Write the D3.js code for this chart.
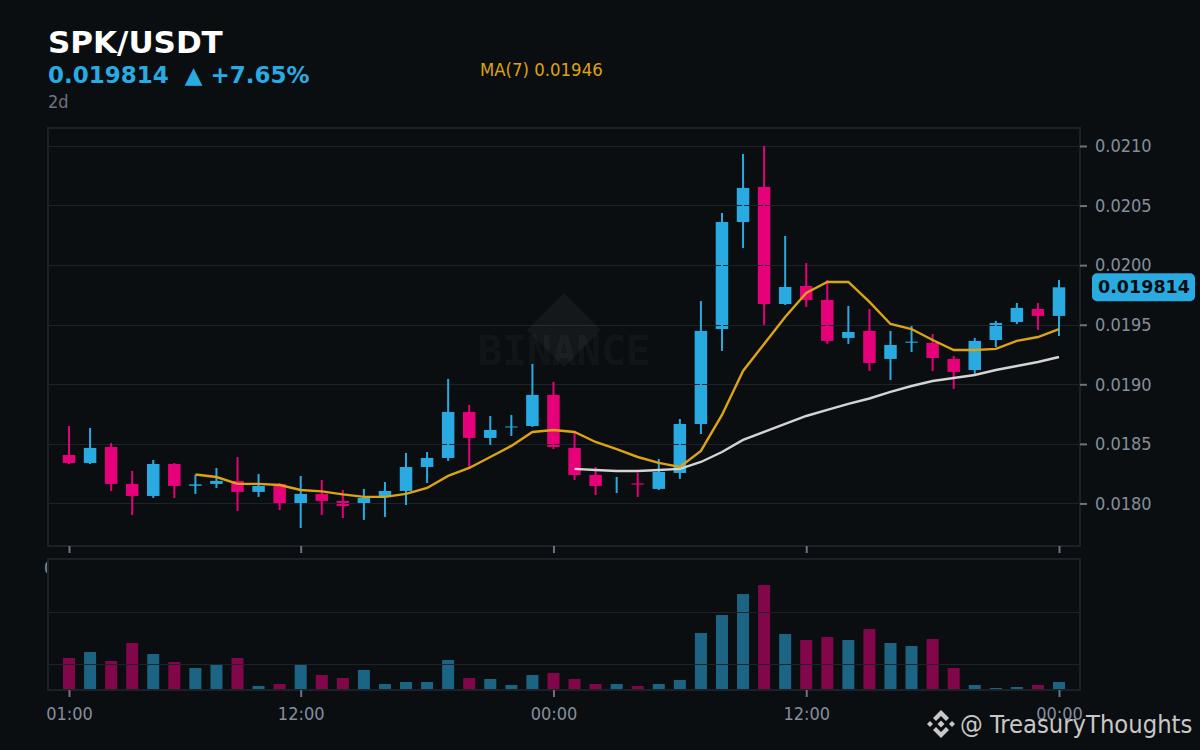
<!doctype HTML>
<html>
<head>
    <style>
        html, body { margin: 0; padding: 0; background: #0b0e11; }
        svg { display: block; }
        text { font-family: "DejaVu Sans", sans-serif; }
        .cond { font-family: "DejaVu Sans Condensed", "DejaVu Sans", sans-serif; font-stretch: condensed; }
        .pre { white-space: pre; }
        .axis path { display: none; }
        .axis line { stroke: #6c7380; stroke-width: 2; }
        .axis text { fill: #848e9c; font-size: 18px; font-family: "DejaVu Sans Condensed", "DejaVu Sans", sans-serif; font-stretch: condensed; }
    </style>
    <script src="https://d3js.org/d3.v7.min.js"></script>
</head>
<body>
<div id="chart"></div>
<script>

    // candle values
    const open = [0.018407,0.018340,0.018474,0.018164,0.018063,0.018331,0.018148,0.018164,0.018189,0.018097,0.018164,0.018004,0.018080,0.018021,0.017996,0.018055,0.018105,0.018306,0.018382,0.018768,0.018550,0.018638,0.018650,0.018911,0.018466,0.018239,0.018147,0.018168,0.018122,0.018256,0.018667,0.019464,0.020362,0.020656,0.019674,0.019825,0.019708,0.019389,0.019448,0.019213,0.019349,0.019347,0.019213,0.019120,0.019372,0.019523,0.019632,0.019574];
    const close = [0.018340,0.018466,0.018164,0.018063,0.018331,0.018147,0.018160,0.018189,0.018097,0.018147,0.018004,0.018080,0.018021,0.017979,0.018046,0.018105,0.018306,0.018382,0.018768,0.018550,0.018617,0.018646,0.018911,0.018474,0.018239,0.018147,0.018147,0.018158,0.018264,0.018667,0.019448,0.020362,0.020648,0.019674,0.019817,0.019708,0.019364,0.019439,0.019179,0.019330,0.019358,0.019221,0.019104,0.019364,0.019515,0.019641,0.019574,0.019814];
    const high = [0.018650,0.018634,0.018508,0.018273,0.018365,0.018340,0.018239,0.018298,0.018390,0.018248,0.018172,0.018231,0.018197,0.018113,0.018122,0.018180,0.018424,0.018432,0.019045,0.018827,0.018734,0.018743,0.019171,0.019020,0.018592,0.018306,0.018222,0.018256,0.018373,0.018709,0.019699,0.020438,0.020933,0.021000,0.020245,0.020018,0.019876,0.019657,0.019632,0.019448,0.019490,0.019422,0.019238,0.019389,0.019532,0.019683,0.019683,0.019876];
    const low = [0.018331,0.018331,0.018105,0.017903,0.018046,0.018046,0.018080,0.018130,0.017937,0.018055,0.017945,0.017794,0.017903,0.017878,0.017862,0.017887,0.017987,0.018172,0.018357,0.018290,0.018491,0.018566,0.018642,0.018457,0.018197,0.018071,0.018088,0.018055,0.018113,0.018206,0.018583,0.019280,0.020144,0.019498,0.019666,0.019649,0.019339,0.019339,0.019112,0.019036,0.019271,0.019112,0.018961,0.019087,0.019313,0.019506,0.019456,0.019406];
    const volume = [6.15,7.31,5.58,9.04,6.92,5.38,4.23,4.81,6.15,0.77,1.15,5.0,2.88,2.31,3.85,1.15,1.54,1.54,5.77,2.31,2.12,0.96,2.88,3.27,2.12,1.15,1.15,0.77,1.15,1.92,10.96,14.42,18.46,20.19,10.77,9.62,10.19,9.62,11.73,9.04,8.46,9.81,4.23,0.96,0.38,0.58,0.96,1.54];

    // moving averages, the leading candles have no value yet
    const ma7 = [null,null,null,null,null,null,0.018243,0.018222,0.018164,0.018164,0.018155,0.018113,0.018101,0.018076,0.018055,0.018055,0.018080,0.018130,0.018231,0.018298,0.018390,0.018483,0.018600,0.018617,0.018600,0.018516,0.018457,0.018390,0.018340,0.018306,0.018441,0.018743,0.019112,0.019339,0.019565,0.019767,0.019859,0.019859,0.019691,0.019506,0.019464,0.019372,0.019288,0.019288,0.019297,0.019364,0.019397,0.019464];
    const ma25 = [null,null,null,null,null,null,null,null,null,null,null,null,null,null,null,null,null,null,null,null,null,null,null,null,0.018290,0.018281,0.018273,0.018273,0.018281,0.018290,0.018348,0.018432,0.018533,0.018600,0.018667,0.018734,0.018785,0.018835,0.018881,0.018936,0.018986,0.019028,0.019053,0.019078,0.019120,0.019154,0.019187,0.019229];

    const xTicks = [0, 11, 23, 35, 47];
    const xTickLabels = ["01:00", "12:00", "00:00", "12:00", "00:00"];
    const priceTicks = [0.018, 0.0185, 0.019, 0.0195, 0.02, 0.0205, 0.021];
    const volumeTicks = [5, 15];

    const upColor = "#29abe2";
    const downColor = "#e6007a";
    const bgColor = "#0b0e11";
    const gridColor = "#1e2329";

    var svg = d3.select("#chart").append("svg")
        .attr("width", 1200)
        .attr("height", 750);

    svg.append("rect")
        .attr("width", 1200)
        .attr("height", 750)
        .attr("fill", bgColor);

    // panels
    var left = 48, right = 1080;
    var priceTop = 128, priceBottom = 546;
    var volTop = 559, volBottom = 690;

    const x = d3.scaleLinear().domain([0, 47]).range([69, 1059]);
    const y = d3.scaleLinear().domain([0.017643, 0.021151]).range([priceBottom, priceTop]);
    const yVol = d3.scaleLinear().domain([0, 25.2]).range([volBottom, volTop]);

    const candles = open.map((d, i) => ({i: i, open: d, close: close[i], high: high[i], low: low[i], vol: volume[i]}));
    const candleColor = d => d.close >= d.open ? upColor : downColor;

    // stray bit of a tick label that pokes out left of the volume panel
    svg.append("text")
        .attr("class", "cond")
        .attr("x", 44)
        .attr("y", 574)
        .attr("font-size", "18px")
        .attr("fill", "#848e9c")
        .text("0");

    svg.append("rect")
        .attr("x", left)
        .attr("y", volTop)
        .attr("width", right - left)
        .attr("height", volBottom - volTop)
        .attr("fill", bgColor);

    // candle bodies sit under the grid, wicks on top of it
    svg.append("g")
        .selectAll("rect")
        .data(candles)
        .join("rect")
        .attr("x", d => x(d.i) - 6.25)
        .attr("y", d => y(Math.max(d.open, d.close)))
        .attr("width", 12.5)
        .attr("height", d => Math.abs(y(d.open) - y(d.close)))
        .attr("fill", candleColor);

    svg.append("g")
        .selectAll("line")
        .data(priceTicks)
        .join("line")
        .attr("x1", left)
        .attr("x2", right)
        .attr("y1", d => Math.floor(y(d) + 0.3) + 0.5)
        .attr("y2", d => Math.floor(y(d) + 0.3) + 0.5)
        .attr("stroke", gridColor);

    // watermark
    var mark = svg.append("g").attr("fill", "#ffffff").attr("fill-opacity", 0.045);
    mark.append("path")
        .attr("d", d3.line()([[564, 293], [601, 330], [564, 367], [527, 330]]) + "Z");
    mark.append("text")
        .attr("x", 564)
        .attr("y", 365)
        .attr("text-anchor", "middle")
        .attr("font-size", "41px")
        .attr("font-weight", "bold")
        .style("font-family", "'DejaVu Sans Mono', monospace")
        .text("BINANCE");

    svg.append("g")
        .selectAll("line")
        .data(candles)
        .join("line")
        .attr("x1", d => x(d.i))
        .attr("x2", d => x(d.i))
        .attr("y1", d => y(d.high))
        .attr("y2", d => y(d.low))
        .attr("stroke", candleColor)
        .attr("stroke-width", 2);

    // moving average lines
    const maLine = d3.line()
        .defined(d => d !== null)
        .x((d, i) => x(i))
        .y(d => y(d));

    svg.append("path")
        .attr("d", maLine(ma25))
        .attr("fill", "none")
        .attr("stroke", "#d4d4d4")
        .attr("stroke-width", 2.4);

    svg.append("path")
        .attr("d", maLine(ma7))
        .attr("fill", "none")
        .attr("stroke", "#dca312")
        .attr("stroke-width", 2.4);

    // volume bars
    svg.append("g")
        .selectAll("rect")
        .data(candles)
        .join("rect")
        .attr("x", d => x(d.i) - 6)
        .attr("y", d => yVol(d.vol))
        .attr("width", 12)
        .attr("height", d => volBottom - yVol(d.vol) - 1)
        .attr("fill", candleColor)
        .attr("fill-opacity", 0.55);

    svg.append("g")
        .selectAll("line")
        .data(volumeTicks)
        .join("line")
        .attr("x1", left)
        .attr("x2", right)
        .attr("y1", d => Math.round(yVol(d)) + 0.5)
        .attr("y2", d => Math.round(yVol(d)) + 0.5)
        .attr("stroke", gridColor);

    // panel borders
    [[priceTop, priceBottom], [volTop, volBottom]].forEach(function(p) {
        svg.append("rect")
            .attr("x", left)
            .attr("y", p[0])
            .attr("width", right - left)
            .attr("height", p[1] - p[0])
            .attr("fill", "none")
            .attr("stroke", "#1c2127")
            .attr("stroke-width", 2);
    });

    // axes
    svg.append("g")
        .attr("class", "axis")
        .attr("transform", `translate(${right}, 0)`)
        .call(d3.axisRight(y).tickValues(priceTicks).tickSize(7).tickPadding(8).tickFormat(d3.format(".4f")));

    svg.append("g")
        .attr("class", "axis")
        .attr("transform", `translate(0, ${priceBottom})`)
        .call(d3.axisBottom(x).tickValues(xTicks).tickSize(7).tickFormat(""));

    svg.append("g")
        .attr("class", "axis")
        .attr("transform", `translate(0, ${volBottom})`)
        .call(d3.axisBottom(x).tickValues(xTicks).tickSize(7).tickPadding(10)
            .tickFormat((d, i) => xTickLabels[i]));

    // last price label
    const lastPrice = close[close.length - 1];
    svg.append("rect")
        .attr("x", 1092)
        .attr("y", y(lastPrice) - 14)
        .attr("width", 103)
        .attr("height", 28)
        .attr("rx", 5)
        .attr("fill", upColor);
    svg.append("text")
        .attr("x", 1144)
        .attr("y", y(lastPrice) + 6)
        .attr("text-anchor", "middle")
        .attr("font-size", "17.5px")
        .attr("font-weight", "bold")
        .attr("fill", bgColor)
        .text(lastPrice.toFixed(6));

    // header
    svg.append("text")
        .attr("x", 48)
        .attr("y", 53)
        .attr("font-size", "31px")
        .attr("font-weight", "bold")
        .attr("fill", "#ffffff")
        .text("SPK/USDT");

    svg.append("text")
        .attr("class", "pre")
        .attr("x", 48)
        .attr("y", 83)
        .attr("font-size", "23px")
        .attr("font-weight", "bold")
        .attr("fill", upColor)
        .text("0.019814  ▲ +7.65%");

    svg.append("text")
        .attr("class", "cond")
        .attr("x", 48)
        .attr("y", 108)
        .attr("font-size", "18px")
        .attr("fill", "#6c7380")
        .text("2d");

    svg.append("text")
        .attr("class", "cond")
        .attr("x", 480)
        .attr("y", 76)
        .attr("font-size", "18.4px")
        .attr("fill", "#dca312")
        .text("MA(7) 0.01946");

    // corner credit with the little logo
    var logo = svg.append("g")
        .attr("transform", "translate(941, 724)")
        .attr("fill", "#c8c8c8");
    logo.selectAll("path")
        .data([
            "M0,-3.5L3.5,0L0,3.5L-3.5,0Z",
            "M-11,-3L-14,0L-11,3L-8,0Z",
            "M11,-3L14,0L11,3L8,0Z",
            "M0,-14L8,-6L5,-3L0,-8L-5,-3L-8,-6Z",
            "M0,14L8,6L5,3L0,8L-5,3L-8,6Z"
        ])
        .join("path")
        .attr("d", d => d);

    svg.append("text")
        .attr("class", "cond")
        .attr("x", 960)
        .attr("y", 733)
        .attr("font-size", "25.3px")
        .attr("fill", "#c8c8c8")
        .text("@ TreasuryThoughts");

</script>
</body>
</html>
